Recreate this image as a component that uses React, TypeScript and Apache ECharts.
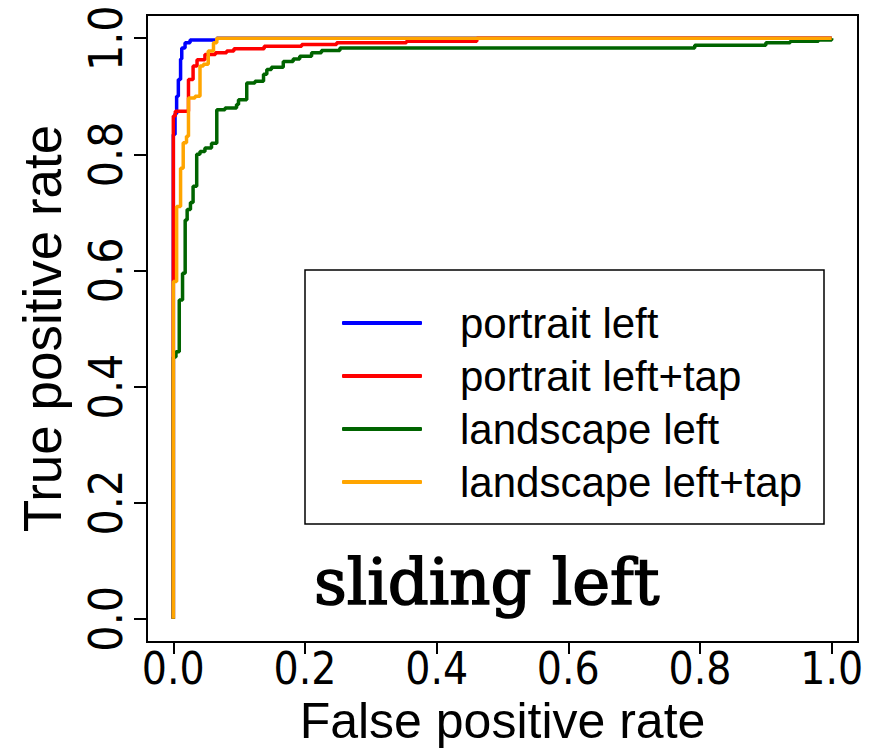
import React, { useEffect, useRef } from "react";
import * as echarts from "echarts";

const tickValues = [0, 0.2, 0.4, 0.6, 0.8, 1.0];
const seriesNames = ["portrait left", "portrait left+tap", "landscape left", "landscape left+tap"];
const seriesColors = ["#0000FF", "#FF0000", "#006400", "#FFA500"];
const panelTitle = "sliding left";
const xAxisTitle = "False positive rate";
const yAxisTitle = "True positive rate";

// ROC points (x = false positive rate, y = true positive rate); steps turn at each point
const fprPortraitLeft = [0, 0, 0.0026, 0.005, 0.0076, 0.011, 0.0128, 0.0178, 0.0254, 0.066, 1];
const tprPortraitLeft = [0, 0.834, 0.87, 0.9, 0.929, 0.964, 0.983, 0.992, 0.997, 1, 1];

const fprPortraitTap = [0, 0, 0.003, 0.023, 0.03, 0.036, 0.048, 0.064, 0.081, 0.092, 0.138, 0.195, 0.248, 0.354, 0.461, 1];
const tprPortraitTap = [0, 0.866, 0.874, 0.929, 0.952, 0.963, 0.972, 0.975, 0.978, 0.982, 0.986, 0.989, 0.992, 0.995, 1, 1];

const fprLandscapeLeft = [0, 0, 0.004, 0.009, 0.014, 0.018, 0.021, 0.026, 0.03, 0.0355, 0.0405, 0.048, 0.058, 0.066, 0.0785, 0.096, 0.099, 0.1115, 0.124, 0.137, 0.142, 0.149, 0.167, 0.182, 0.192, 0.21, 0.225, 0.253, 0.792, 0.9, 0.937, 0.98, 1];
const tprLandscapeLeft = [0, 0.451, 0.46, 0.549, 0.595, 0.687, 0.705, 0.717, 0.745, 0.8, 0.805, 0.811, 0.819, 0.877, 0.88, 0.886, 0.894, 0.923, 0.926, 0.938, 0.946, 0.95, 0.96, 0.964, 0.969, 0.975, 0.979, 0.983, 0.988, 0.992, 0.995, 0.997, 1];

const fprLandscapeTap = [0, 0, 0.005, 0.011, 0.015, 0.02, 0.023, 0.033, 0.0405, 0.0456, 0.053, 0.061, 0.066, 1];
const tprLandscapeTap = [0, 0.581, 0.71, 0.776, 0.82, 0.831, 0.897, 0.9, 0.952, 0.955, 0.978, 0.992, 1, 1];

const allFpr = [fprPortraitLeft, fprPortraitTap, fprLandscapeLeft, fprLandscapeTap];
const allTpr = [tprPortraitLeft, tprPortraitTap, tprLandscapeLeft, tprLandscapeTap];

export default function App() {
  const ref = useRef<HTMLDivElement>(null);
  useEffect(() => {
    if (!ref.current) return;
    const chart = echarts.init(ref.current, undefined, { renderer: "svg" });
    const tickFont = "'Liberation Sans Narrow', 'DejaVu Sans Condensed', 'Arial Narrow', 'Liberation Sans', Arial, sans-serif";
    const mainFont = "'Liberation Sans', Arial, sans-serif";
    const series = seriesNames.map((name, i) => ({
      name,
      type: "line",
      step: "end",
      showSymbol: false,
      symbol: "none",
      data: allFpr[i].map((x, j) => [x, allTpr[i][j]]),
      lineStyle: { color: seriesColors[i], width: 3.5 },
      itemStyle: { color: seriesColors[i] },
      z: 2 + i,
    }));
    chart.setOption({
      animation: false,
      backgroundColor: "#ffffff",
      grid: {
        left: 147,
        top: 15,
        right: 11,
        bottom: 106,
        outerBoundsMode: "none",
        containLabel: false,
        show: true,
        borderColor: "#000",
        borderWidth: 2,
        backgroundColor: "transparent",
      },
      title: {
        text: panelTitle,
        left: 314,
        top: 550,
        padding: 0,
        textStyle: {
          fontFamily: "'DejaVu Serif', serif",
          fontSize: 64,
          fontWeight: "normal",
          color: "#000",
          textBorderColor: "#000",
          textBorderWidth: 1.6,
        },
      },
      xAxis: {
        type: "value",
        min: -0.04,
        max: 1.04,
        name: xAxisTitle,
        nameLocation: "middle",
        nameGap: 54,
        nameMoveOverlap: false,
        nameTextStyle: { fontFamily: mainFont, fontSize: 50, lineHeight: 50, color: "#000" },
        axisLine: { show: false, onZero: false },
        splitLine: { show: false },
        axisTick: { show: true, customValues: tickValues, length: 12, lineStyle: { color: "#000", width: 2 } },
        axisLabel: {
          customValues: tickValues,
          formatter: (v: number) => v.toFixed(1),
          fontFamily: tickFont,
          fontSize: 44,
          lineHeight: 38,
          color: "#000",
          margin: 7,
        },
      },
      yAxis: {
        type: "value",
        min: -0.04,
        max: 1.04,
        name: yAxisTitle,
        nameLocation: "middle",
        nameGap: 78,
        nameRotate: 90,
        nameMoveOverlap: false,
        nameTextStyle: { fontFamily: mainFont, fontSize: 53, color: "#000" },
        axisLine: { show: false, onZero: false },
        splitLine: { show: false },
        axisTick: { show: true, customValues: tickValues, length: 13, lineStyle: { color: "#000", width: 2 } },
        axisLabel: {
          customValues: tickValues,
          formatter: (v: number) => v.toFixed(1),
          rotate: 90,
          fontFamily: tickFont,
          fontSize: 46,
          color: "#000",
          margin: 18,
        },
      },
      legend: {
        orient: "vertical",
        left: 342,
        top: 302,
        padding: 0,
        itemWidth: 80,
        itemHeight: 4,
        itemGap: 11,
        icon: "roundRect",
        data: seriesNames,
        textStyle: { fontFamily: mainFont, fontSize: 42, lineHeight: 42, color: "#000", padding: [0, 0, 0, 33] },
      },
      graphic: [
        {
          type: "rect",
          shape: { x: 305, y: 270, width: 519, height: 254 },
          style: { fill: "none", stroke: "#000", lineWidth: 1.5 },
          z: 1,
        },
      ],
      series,
    });
    return () => chart.dispose();
  }, []);
  return <div ref={ref} style={{ position: "fixed", left: 0, top: 0, width: 869, height: 748 }} />;
}
